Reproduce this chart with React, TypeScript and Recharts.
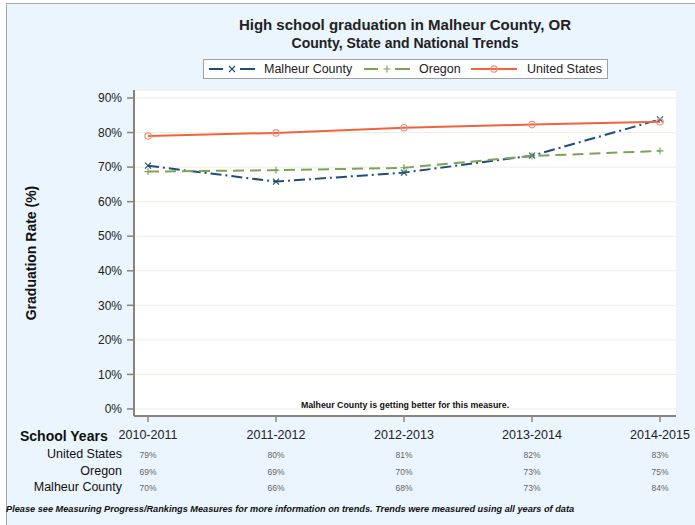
import { CartesianGrid, Line, LineChart, XAxis, YAxis } from 'recharts'

const years = ['2010-2011', '2011-2012', '2012-2013', '2013-2014', '2014-2015']
const malheurRate = [70.4, 65.8, 68.4, 73.3, 83.8]
const oregonRate = [68.7, 69.1, 69.8, 73.2, 74.7]
const usRate = [79.0, 79.9, 81.4, 82.3, 83.1]
const yTicks = [0, 10, 20, 30, 40, 50, 60, 70, 80, 90]

// values as printed in the table under the chart
const usShown = ['79%', '80%', '81%', '82%', '83%']
const oregonShown = ['69%', '69%', '70%', '73%', '75%']
const malheurShown = ['70%', '66%', '68%', '73%', '84%']

const FONT = '"Liberation Sans", Arial, sans-serif'
const FRAME = '#8a8478'

const data = years.map((year, i) => ({
  year,
  malheur: malheurRate[i],
  oregon: oregonRate[i],
  us: usRate[i],
}))

const series = [
  { key: 'malheur', name: 'Malheur County', color: '#1f4e79', dash: '11 4 2 4', marker: 'x', legendX: 5, textX: 60 },
  { key: 'oregon', name: 'Oregon', color: '#7ea356', dash: '11 6', marker: 'plus', legendX: 160, textX: 215 },
  { key: 'us', name: 'United States', color: '#f0643c', dash: undefined, marker: 'circle', legendX: 267, textX: 323 },
]

function Marker({ type, cx, cy, color }: { type: string; cx: number; cy: number; color: string }) {
  if (type === 'x') {
    return (
      <path
        d={`M${cx - 3},${cy - 3}L${cx + 3},${cy + 3}M${cx - 3},${cy + 3}L${cx + 3},${cy - 3}`}
        stroke={color}
        strokeWidth={1.1}
      />
    )
  }
  if (type === 'plus') {
    return (
      <path
        d={`M${cx - 3.5},${cy}L${cx + 3.5},${cy}M${cx},${cy - 3.5}L${cx},${cy + 3.5}`}
        stroke={color}
        strokeWidth={1.1}
      />
    )
  }
  return <circle cx={cx} cy={cy} r={3.2} fill="none" stroke="#f5907a" strokeWidth={1.2} />
}

function LegendBox() {
  return (
    <div
      style={{
        position: 'absolute',
        left: 203,
        top: 59,
        width: 405,
        height: 20,
        border: '1px solid #a0a0a0',
        background: '#fff',
        boxSizing: 'border-box',
        fontFamily: FONT,
        fontSize: 12.5,
        color: '#222',
      }}
    >
      {series.map((s) => (
        <div key={s.key}>
          <svg width={46} height={10} style={{ position: 'absolute', left: s.legendX, top: 4 }}>
            {s.marker === 'circle' ? (
              <line x1={0} y1={5} x2={46} y2={5} stroke={s.color} strokeWidth={2} />
            ) : (
              <>
                <line x1={0} y1={5} x2={14} y2={5} stroke={s.color} strokeWidth={2} />
                <line x1={31} y1={5} x2={46} y2={5} stroke={s.color} strokeWidth={2} />
              </>
            )}
            <Marker type={s.marker} cx={23} cy={5} color={s.color} />
          </svg>
          <span style={{ position: 'absolute', left: s.textX, top: 2, whiteSpace: 'nowrap' }}>{s.name}</span>
        </div>
      ))}
    </div>
  )
}

const tableRows = [
  { label: 'United States', values: usShown, top: 447 },
  { label: 'Oregon', values: oregonShown, top: 464 },
  { label: 'Malheur County', values: malheurShown, top: 480 },
]

export default function App() {
  return (
    <div style={{ position: 'absolute', left: 0, top: 0, width: 695, height: 525, background: '#fff', overflow: 'hidden' }}>
      <div
        style={{
          position: 'absolute',
          left: 6,
          top: 3,
          width: 689,
          height: 522,
          background: '#eaf5fd',
          borderLeft: '1px solid #a8a8a8',
          borderTop: '1px solid #a8a8a8',
        }}
      />
      <div
        style={{
          position: 'absolute',
          left: 105,
          width: 600,
          top: 16,
          textAlign: 'center',
          fontFamily: FONT,
          fontWeight: 'bold',
          color: '#222',
        }}
      >
        <div style={{ fontSize: 15 }}>High school graduation in Malheur County, OR</div>
        <div style={{ fontSize: 14, marginTop: 2 }}>County, State and National Trends</div>
      </div>
      <LegendBox />
      <div style={{ position: 'absolute', left: 0, top: 0 }}>
        <LineChart
          width={695}
          height={525}
          data={data}
          margin={{ top: 90, right: 19, bottom: 79, left: 0 }}
        >
          <CartesianGrid vertical={false} stroke="#efece0" fill="#ffffff" strokeWidth={1} />
          <XAxis
            dataKey="year"
            padding={{ left: 14, right: 16 }}
            tickSize={6}
            tickMargin={8}
            height={30}
            axisLine={{ stroke: FRAME, strokeWidth: 2 }}
            tickLine={{ stroke: FRAME, strokeWidth: 1.5 }}
            tick={{ fill: '#222', fontSize: 12.5, fontFamily: FONT }}
          />
          <XAxis xAxisId="top" orientation="top" dataKey="year" height={0} tick={false} tickLine={false} axisLine={{ stroke: FRAME, strokeWidth: 2 }} />
          <YAxis
            domain={[-2.03, 92.31]}
            ticks={yTicks}
            allowDataOverflow
            width={134}
            tickSize={7}
            tickMargin={5}
            tickFormatter={(v: number) => `${v}%`}
            axisLine={{ stroke: FRAME, strokeWidth: 2 }}
            tickLine={{ stroke: FRAME, strokeWidth: 1.5 }}
            tick={{ fill: '#222', fontSize: 12, fontFamily: FONT }}
            label={{
              value: 'Graduation Rate (%)',
              angle: -90,
              position: 'insideLeft',
              offset: 31,
              style: { fill: '#111', fontSize: 14, fontWeight: 'bold', fontFamily: FONT, textAnchor: 'middle' },
            }}
          />
          <YAxis yAxisId="right" orientation="right" width={0} domain={[-2.03, 92.31]} tick={false} tickLine={false} axisLine={{ stroke: FRAME, strokeWidth: 2 }} />
          {series.map((s) => (
            <Line
              key={s.key}
              type="linear"
              dataKey={s.key}
              name={s.name}
              stroke={s.color}
              strokeWidth={2}
              strokeDasharray={s.dash}
              isAnimationActive={false}
              dot={(p: any) => (
                <g key={`${s.key}-${p.index}`}>
                  <Marker type={s.marker} cx={p.cx} cy={p.cy} color={s.color} />
                </g>
              )}
              activeDot={false}
            />
          ))}
        </LineChart>
      </div>
      <div
        style={{
          position: 'absolute',
          left: 134,
          width: 542,
          top: 400,
          textAlign: 'center',
          fontFamily: FONT,
          fontSize: 8.8,
          fontWeight: 'bold',
          color: '#111',
        }}
      >
        Malheur County is getting better for this measure.
      </div>
      <div
        style={{
          position: 'absolute',
          left: 20,
          top: 428,
          fontFamily: FONT,
          fontSize: 14,
          fontWeight: 'bold',
          color: '#111',
        }}
      >
        School Years
      </div>
      {tableRows.map((row) => (
        <div key={row.label}>
          <div
            style={{
              position: 'absolute',
              right: 695 - 122,
              top: row.top,
              fontFamily: FONT,
              fontSize: 12.5,
              color: '#111',
              whiteSpace: 'nowrap',
            }}
          >
            {row.label}
          </div>
          {row.values.map((v, i) => (
            <div
              key={i}
              style={{
                position: 'absolute',
                left: 148 + i * 128 - 20,
                width: 40,
                textAlign: 'center',
                top: row.top + 3,
                fontFamily: FONT,
                fontSize: 8.5,
                color: '#666',
              }}
            >
              {v}
            </div>
          ))}
        </div>
      ))}
      <div
        style={{
          position: 'absolute',
          left: 6,
          top: 504,
          fontFamily: FONT,
          fontSize: 9.2,
          fontWeight: 'bold',
          fontStyle: 'italic',
          color: '#111',
          whiteSpace: 'nowrap',
        }}
      >
        Please see Measuring Progress/Rankings Measures for more information on trends. Trends were measured using all years of data
      </div>
    </div>
  )
}
